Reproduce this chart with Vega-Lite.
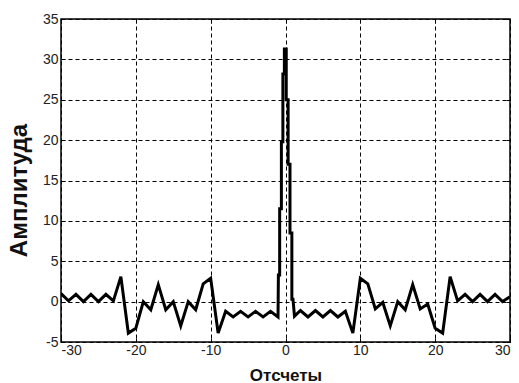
{
  "$schema": "https://vega.github.io/schema/vega-lite/v6.json",
  "width": 449,
  "height": 323,
  "autosize": "none",
  "padding": {"left": 61, "top": 19, "right": 9, "bottom": 41},
  "background": "white",
  "config": {
    "view": {"stroke": "black", "strokeWidth": 1.5},
    "axis": {
      "labelFont": "Liberation Sans",
      "titleFont": "Liberation Sans",
      "labelColor": "#222",
      "titleColor": "#111",
      "domainColor": "black",
      "tickColor": "black",
      "gridColor": "black",
      "gridDash": [4, 3],
      "gridWidth": 1,
      "gridOpacity": 1
    }
  },
  "data": {
    "values": [
      {"i": 1, "x": -30, "y": 1.0},
      {"i": 2, "x": -29, "y": 0.1},
      {"i": 3, "x": -28, "y": 0.9},
      {"i": 4, "x": -27, "y": 0.0},
      {"i": 5, "x": -26, "y": 0.9},
      {"i": 6, "x": -25, "y": 0.0},
      {"i": 7, "x": -24, "y": 0.9},
      {"i": 8, "x": -23, "y": 0.1},
      {"i": 9, "x": -22, "y": 3.1},
      {"i": 10, "x": -21, "y": -3.9},
      {"i": 11, "x": -20, "y": -3.3},
      {"i": 12, "x": -19, "y": 0.0},
      {"i": 13, "x": -18, "y": -1.0},
      {"i": 14, "x": -17, "y": 2.1},
      {"i": 15, "x": -16, "y": -1.0},
      {"i": 16, "x": -15, "y": 0.0},
      {"i": 17, "x": -14, "y": -3.0},
      {"i": 18, "x": -13, "y": 0.0},
      {"i": 19, "x": -12, "y": -1.0},
      {"i": 20, "x": -11, "y": 2.2},
      {"i": 21, "x": -10, "y": 2.9},
      {"i": 22, "x": -9, "y": -3.9},
      {"i": 23, "x": -8, "y": -1.2},
      {"i": 24, "x": -7, "y": -1.9},
      {"i": 25, "x": -6, "y": -1.2},
      {"i": 26, "x": -5, "y": -1.9},
      {"i": 27, "x": -4, "y": -1.2},
      {"i": 28, "x": -3, "y": -1.9},
      {"i": 29, "x": -2, "y": -1.2},
      {"i": 30, "x": -1, "y": -1.9},
      {"i": 31, "x": -0.95, "y": 3.3},
      {"i": 32, "x": -0.78, "y": 3.3},
      {"i": 33, "x": -0.78, "y": 11.5},
      {"i": 34, "x": -0.55, "y": 11.5},
      {"i": 35, "x": -0.55, "y": 19.8},
      {"i": 36, "x": -0.35, "y": 19.8},
      {"i": 37, "x": -0.35, "y": 28.2},
      {"i": 38, "x": -0.15, "y": 28.2},
      {"i": 39, "x": -0.15, "y": 31.3},
      {"i": 40, "x": 0.1, "y": 31.3},
      {"i": 41, "x": 0.1, "y": 25.0},
      {"i": 42, "x": 0.35, "y": 25.0},
      {"i": 43, "x": 0.35, "y": 17.0},
      {"i": 44, "x": 0.6, "y": 17.0},
      {"i": 45, "x": 0.6, "y": 8.5},
      {"i": 46, "x": 0.85, "y": 8.5},
      {"i": 47, "x": 0.85, "y": 0.3},
      {"i": 48, "x": 1.0, "y": 0.3},
      {"i": 49, "x": 1.2, "y": -1.8},
      {"i": 50, "x": 2, "y": -1.1},
      {"i": 51, "x": 3, "y": -1.9},
      {"i": 52, "x": 4, "y": -1.1},
      {"i": 53, "x": 5, "y": -1.9},
      {"i": 54, "x": 6, "y": -1.1},
      {"i": 55, "x": 7, "y": -1.9},
      {"i": 56, "x": 8, "y": -1.2},
      {"i": 57, "x": 9, "y": -3.9},
      {"i": 58, "x": 10, "y": 2.9},
      {"i": 59, "x": 11, "y": 2.2},
      {"i": 60, "x": 12, "y": -0.9},
      {"i": 61, "x": 13, "y": -0.1},
      {"i": 62, "x": 14, "y": -3.0},
      {"i": 63, "x": 15, "y": 0.0},
      {"i": 64, "x": 16, "y": -1.0},
      {"i": 65, "x": 17, "y": 2.1},
      {"i": 66, "x": 18, "y": -0.9},
      {"i": 67, "x": 19, "y": -0.3},
      {"i": 68, "x": 20, "y": -3.3},
      {"i": 69, "x": 21, "y": -3.9},
      {"i": 70, "x": 22, "y": 3.1},
      {"i": 71, "x": 23, "y": 0.1},
      {"i": 72, "x": 24, "y": 0.9},
      {"i": 73, "x": 25, "y": 0.0},
      {"i": 74, "x": 26, "y": 0.9},
      {"i": 75, "x": 27, "y": 0.0},
      {"i": 76, "x": 28, "y": 0.9},
      {"i": 77, "x": 29, "y": 0.0},
      {"i": 78, "x": 30, "y": 0.6}
    ]
  },
  "layer": [
    {
      "mark": {"type": "line", "color": "black", "strokeWidth": 3, "strokeJoin": "miter", "clip": true},
      "encoding": {
        "x": {
          "field": "x", "type": "quantitative",
          "scale": {"domain": [-30, 30], "nice": false, "zero": false},
          "axis": {
            "values": [-30, -20, -10, 0, 10, 20, 30],
            "labelExpr": "datum.value < 0 ? '-' + abs(datum.value) : '' + datum.value",
            "title": "Отсчеты",
            "titleFontSize": 17,
            "titleFontWeight": "bold",
            "titleBaseline": "alphabetic",
            "titleY": 38,
            "labelFontSize": 14,
            "labelPadding": 5,
            "tickSize": -4,
            "domain": false,
            "grid": true
          }
        },
        "y": {
          "field": "y", "type": "quantitative",
          "scale": {"domain": [-5, 35], "nice": false, "zero": false},
          "axis": {
            "values": [-5, 0, 5, 10, 15, 20, 25, 30, 35],
            "labelExpr": "datum.value < 0 ? '-' + abs(datum.value) : '' + datum.value",
            "title": "Амплитуда",
            "titleFontSize": 24,
            "titleFontWeight": "bold",
            "titleX": -30,
            "titleY": 171,
            "titleBaseline": "bottom",
            "labelFontSize": 14,
            "labelPadding": 7,
            "tickSize": -4,
            "domain": false,
            "grid": true
          }
        },
        "order": {"field": "i", "type": "quantitative"}
      }
    },
    {
      "mark": {"type": "line", "opacity": 0},
      "encoding": {
        "x": {
          "field": "x", "type": "quantitative",
          "axis": {"orient": "top", "values": [-30, -20, -10, 0, 10, 20, 30], "labels": false, "title": null, "tickSize": -4, "domain": false, "grid": false}
        },
        "y": {
          "field": "y", "type": "quantitative",
          "axis": {"orient": "right", "values": [-5, 0, 5, 10, 15, 20, 25, 30, 35], "labels": false, "title": null, "tickSize": -4, "domain": false, "grid": false}
        },
        "order": {"field": "i", "type": "quantitative"}
      }
    }
  ],
  "resolve": {"axis": {"x": "independent", "y": "independent"}}
}
